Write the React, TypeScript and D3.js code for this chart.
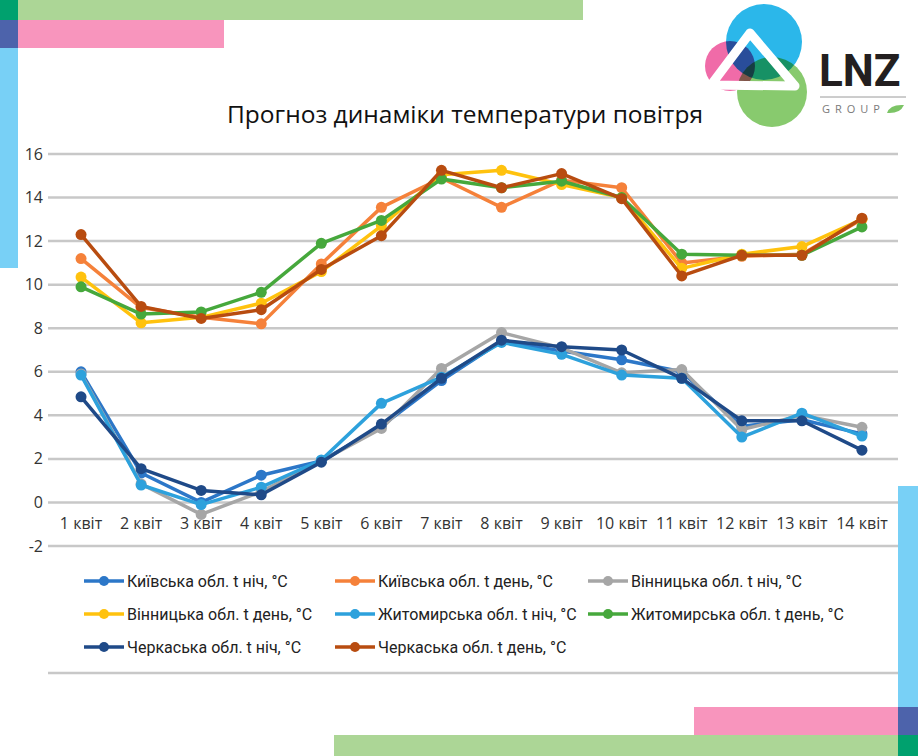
import React from "react"
import * as d3 from "d3"

// categories and values
const days = ["1 квіт", "2 квіт", "3 квіт", "4 квіт", "5 квіт", "6 квіт", "7 квіт",
  "8 квіт", "9 квіт", "10 квіт", "11 квіт", "12 квіт", "13 квіт", "14 квіт"]
const yTicks = [-2, 0, 2, 4, 6, 8, 10, 12, 14, 16]

const kyivNight = [6.0, 1.35, 0.0, 1.25, 1.9, 3.5, 5.6, 7.4, 6.95, 6.55, 6.0, 3.5, 3.8, 3.15]
const kyivDay = [11.2, 8.95, 8.5, 8.2, 10.95, 13.55, 14.9, 13.55, 14.8, 14.45, 11.0, 11.3, 11.4, 13.0]
const vinNight = [5.9, 0.85, -0.55, 0.5, 1.9, 3.4, 6.15, 7.8, 7.1, 5.95, 6.1, 3.35, 4.0, 3.45]
const vinDay = [10.35, 8.25, 8.5, 9.15, 10.6, 12.7, 15.05, 15.25, 14.6, 14.0, 10.75, 11.4, 11.75, 13.0]
const zhytNight = [5.85, 0.8, -0.1, 0.7, 1.95, 4.55, 5.75, 7.35, 6.8, 5.85, 5.7, 3.0, 4.1, 3.05]
const zhytDay = [9.9, 8.65, 8.75, 9.65, 11.9, 12.95, 14.85, 14.45, 14.75, 14.0, 11.4, 11.35, 11.35, 12.65]
const cherNight = [4.85, 1.55, 0.55, 0.35, 1.85, 3.6, 5.7, 7.45, 7.15, 7.0, 5.7, 3.75, 3.75, 2.4]
const cherDay = [12.3, 9.0, 8.45, 8.85, 10.7, 12.25, 15.25, 14.45, 15.1, 13.95, 10.4, 11.35, 11.35, 13.05]

const seriesNames = [
  "Київська обл. t ніч, °С", "Київська обл. t день, °С", "Вінницька обл. t ніч, °С",
  "Вінницька обл. t день, °С", "Житомирська обл. t ніч, °С", "Житомирська обл. t день, °С",
  "Черкаська обл. t ніч, °С", "Черкаська обл. t день, °С",
]
const seriesValues = [kyivNight, kyivDay, vinNight, vinDay, zhytNight, zhytDay, cherNight, cherDay]
const seriesColors = ["#2c77c8", "#f5813a", "#a6a6a6", "#ffc20e", "#2da1dc", "#46a83c", "#1f4a88", "#b84c10"]

const W = 918
const H = 756
const font = "'Open Sans', sans-serif"

const Logo: React.FC = () => (
  <g>
    <g style={{ isolation: "isolate" }}>
      <circle cx={764} cy={42} r={38} fill="#2bb7ea" />
      <circle cx={730} cy={66} r={25} fill="#f06ba8" style={{ mixBlendMode: "multiply" }} />
      <circle cx={772} cy={92} r={35} fill="#88ca6e" style={{ mixBlendMode: "multiply" }} />
    </g>
    <path d="M750,33 L711,85 L795,86 Z" fill="none" stroke="#fff" strokeWidth={9} strokeLinejoin="round" />
    <text x={819} y={86} fontFamily="Roboto, sans-serif" fontWeight={700} fontSize={44} fill="#231f20">LNZ</text>
    <line x1={820} x2={906} y1={97} y2={97} stroke="#9a9a9a" strokeWidth={1} />
    <text x={822} y={113} fontFamily={font} fontSize={11} letterSpacing={5} fill="#7a7a7a">GROUP</text>
    <path d="M887,113 Q890,104 904,105 Q900,114 887,113 Z" fill="#7cc466" />
  </g>
)

const App: React.FC = () => {
  const x = d3.scalePoint<string>().domain(days).range([51, 892]).padding(0.5)
  const y = d3.scaleLinear().domain([-2, 16]).range([546, 154])
  const line = d3.line<number>()
    .x((_, i) => x(days[i]) as number)
    .y((d) => y(d))

  const legendCols = [84, 335, 588]
  const legendRows = [581, 614, 647]

  return (
    <svg width={W} height={H} style={{ position: "absolute", left: 0, top: 0, background: "#fff" }}>
      <rect width={W} height={H} fill="#fff" />

      {/* corner decorations */}
      <rect x={18} y={0} width={565} height={20} fill="#acd696" />
      <rect x={18} y={20} width={206} height={28} fill="#f895bd" />
      <rect x={0} y={0} width={18} height={20} fill="#00a16e" />
      <rect x={0} y={20} width={18} height={28} fill="#4d63ab" />
      <rect x={0} y={48} width={18} height={220} fill="#78d0f6" />

      <Logo />

      <text x={465} y={123} textAnchor="middle" fontFamily={font} fontSize={24.5} fill="#111">
        Прогноз динаміки температури повітря
      </text>

      {/* grid */}
      {yTicks.map((t) => (
        <g key={t}>
          <line x1={48} x2={898} y1={y(t)} y2={y(t)} stroke="#c8c8c8" strokeWidth={2.5} />
          <text x={43} y={y(t)} dy="0.35em" textAnchor="end" fontFamily={font} fontSize={16} fill="#333">{t}</text>
        </g>
      ))}
      <line x1={48} x2={898} y1={673} y2={673} stroke="#c8c8c8" strokeWidth={2.5} />

      {days.map((d) => (
        <text key={d} x={x(d)} y={529} textAnchor="middle" fontFamily={font} fontSize={16} fill="#333">{d}</text>
      ))}

      {/* series */}
      {seriesValues.map((vals, si) => (
        <g key={si}>
          <path d={line(vals) ?? ""} fill="none" stroke={seriesColors[si]} strokeWidth={3.5} strokeLinejoin="round" />
          {vals.map((v, i) => (
            <circle key={i} cx={x(days[i])} cy={y(v)} r={5.5} fill={seriesColors[si]} />
          ))}
        </g>
      ))}

      {/* legend */}
      {seriesNames.map((name, i) => {
        const lx = legendCols[i % 3]
        const ly = legendRows[Math.floor(i / 3)]
        return (
          <g key={name}>
            <line x1={lx} x2={lx + 40} y1={ly} y2={ly} stroke={seriesColors[i]} strokeWidth={3.5} />
            <circle cx={lx + 20} cy={ly} r={5} fill={seriesColors[i]} />
            <text x={lx + 43} y={ly} dy="0.35em" fontFamily="Roboto, sans-serif" fontSize={16} fill="#222">{name}</text>
          </g>
        )
      })}

      {/* bottom right decorations */}
      <rect x={898} y={486} width={20} height={221} fill="#78d0f6" />
      <rect x={694} y={707} width={204} height={28} fill="#f895bd" />
      <rect x={334} y={735} width={564} height={21} fill="#acd696" />
      <rect x={898} y={707} width={20} height={28} fill="#4d63ab" />
      <rect x={898} y={735} width={20} height={21} fill="#00a16e" />
    </svg>
  )
}

export default App
